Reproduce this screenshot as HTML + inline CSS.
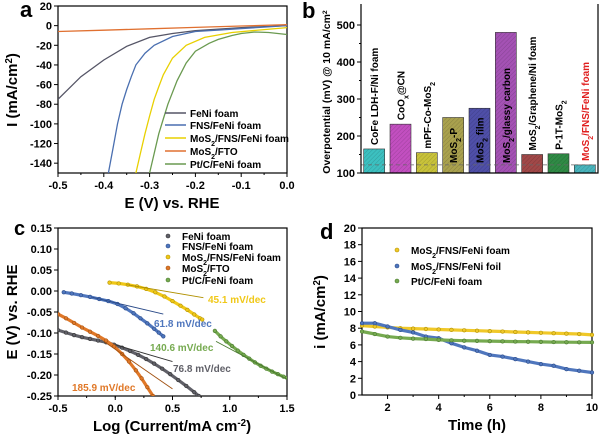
<!DOCTYPE html>
<html><head><meta charset="utf-8"><style>
html,body{margin:0;padding:0;background:#fff;}
svg{display:block;font-family:"Liberation Sans",sans-serif;font-weight:bold;}
</style></head><body>
<svg id="fig" width="600" height="435" viewBox="0 0 600 435">
<defs>
<pattern id="hatch" width="3" height="3" patternUnits="userSpaceOnUse" patternTransform="rotate(45)"><line x1="0" y1="0" x2="0" y2="3" stroke="#000" stroke-opacity="0.18" stroke-width="1"/></pattern>
</defs>
</svg>
<script>
// ---------- Panel a data ----------
const aXTicks=[-0.5,-0.4,-0.3,-0.2,-0.1,0.0];
const aYTicks=[20,0,-20,-40,-60,-80,-100,-120,-140];
const aNames=["FeNi foam","FNS/FeNi foam","MoS2/FNS/FeNi foam","MoS2/FTO","Pt/C/FeNi foam"];
const aFeNiX=[-0.5,-0.45,-0.4,-0.35,-0.3,-0.25,-0.2,-0.15,-0.1,-0.05,0];
const aFeNiY=[-75,-52,-35,-21,-12,-8,-5,-3.5,-2,-1,0];
const aFNSX=[-0.39,-0.38,-0.37,-0.36,-0.35,-0.34,-0.33,-0.31,-0.29,-0.25,-0.2,-0.15,-0.1,-0.05,0];
const aFNSY=[-150,-125,-100,-80,-65,-52,-40,-28,-20,-11,-6,-4.5,-3,-1.5,0];
const aMoFX=[-0.33,-0.32,-0.31,-0.3,-0.29,-0.28,-0.27,-0.25,-0.22,-0.18,-0.12,-0.05,0];
const aMoFY=[-150,-130,-110,-92,-75,-62,-50,-33,-20,-12,-7,-4,-2];
const aFTOX=[-0.5,-0.4,-0.3,-0.2,-0.1,0];
const aFTOY=[-6,-4.6,-3.2,-1.8,-0.4,1];
const aPtX=[-0.3,-0.29,-0.28,-0.27,-0.26,-0.24,-0.22,-0.2,-0.17,-0.15,-0.12,-0.1,-0.07,-0.04,0];
const aPtY=[-150,-130,-110,-95,-80,-56,-38,-26,-18,-14,-10,-8,-6.5,-7,-9];
// ---------- Panel b data ----------
const bCats=["CoFe LDH-F/Ni foam","CoOx@CN","mPF-Co-MoS2","MoS2-P","MoS2 film","MoS2/glassy carbon","MoS2/Graphene/Ni foam","P-1T-MoS2","MoS2/FNS/FeNi foam"];
const bVals=[165,232,155,250,275,480,150,152,122];
const bYTicks=[100,200,300,400,500];
// ---------- Panel c data ----------
const cXTicks=[-0.5,0.0,0.5,1.0,1.5];
const cYTicks=[0.15,0.10,0.05,0.00,-0.05,-0.10,-0.15,-0.20,-0.25];
const cFeNiX=[-0.5,-0.43,-0.36,-0.29,-0.22,-0.15,-0.08,-0.01,0.06,0.13,0.2,0.27,0.34,0.41,0.48,0.55,0.62,0.69,0.73];
const cFeNiY=[-0.093,-0.099,-0.105,-0.11,-0.114,-0.118,-0.122,-0.128,-0.135,-0.143,-0.152,-0.162,-0.173,-0.185,-0.198,-0.212,-0.226,-0.241,-0.25];
const cFNSX=[-0.45,-0.38,-0.3,-0.22,-0.14,-0.06,0.02,0.09,0.16,0.22,0.28,0.34,0.38,0.42];
const cFNSY=[-0.003,-0.006,-0.01,-0.014,-0.019,-0.024,-0.031,-0.041,-0.053,-0.065,-0.077,-0.09,-0.099,-0.108];
const cMoFX=[-0.05,0.03,0.11,0.19,0.27,0.35,0.43,0.5,0.57,0.63,0.69,0.74,0.76];
const cMoFY=[0.02,0.018,0.015,0.011,0.005,-0.003,-0.013,-0.024,-0.035,-0.045,-0.056,-0.065,-0.068];
const cFTOX=[-0.5,-0.43,-0.36,-0.29,-0.22,-0.15,-0.08,-0.01,0.06,0.12,0.18,0.23,0.28,0.33];
const cFTOY=[-0.055,-0.065,-0.076,-0.087,-0.097,-0.107,-0.118,-0.132,-0.15,-0.168,-0.189,-0.208,-0.229,-0.25];
const cPtX=[0.87,0.92,0.97,1.02,1.07,1.12,1.17,1.22,1.27,1.32,1.37,1.42,1.47,1.5];
const cPtY=[-0.095,-0.108,-0.12,-0.131,-0.142,-0.152,-0.161,-0.17,-0.178,-0.185,-0.192,-0.198,-0.204,-0.207];
const cFitFeNiX=[0.0,0.5],cFitFeNiY=[-0.128,-0.168];
const cFitFNSX=[-0.2,0.42],cFitFNSY=[-0.015,-0.055];
const cFitMoFX=[0.1,0.77],cFitMoFY=[0.015,-0.016];
const cFitFTOX=[-0.1,0.5],cFitFTOY=[-0.12,-0.233];
const cFitPtX=[0.88,1.5],cFitPtY=[-0.12,-0.21];
const cSlopes=["45.1 mV/dec","61.8 mV/dec","140.6 mV/dec","76.8 mV/dec","185.9 mV/dec"];
// ---------- Panel d data ----------
const dXTicks=[2,4,6,8,10];
const dYTicks=[0,2,4,6,8,10,12,14,16,18,20];
const dFoamX=[1,1.5,2,2.5,3,3.5,4,4.5,5,5.5,6,6.5,7,7.5,8,8.5,9,9.5,10];
const dFoamY=[8.3,8.2,8.1,8.0,7.95,7.9,7.85,7.8,7.75,7.7,7.65,7.6,7.55,7.5,7.45,7.4,7.35,7.3,7.2];
const dFoilX=[1,1.5,2,2.5,3,3.5,4,4.5,5,5.5,6,6.5,7,7.5,8,8.5,9,9.5,10];
const dFoilY=[8.6,8.6,8.2,7.8,7.5,7.0,6.8,6.2,5.7,5.3,4.8,4.6,4.3,4.0,3.7,3.5,3.1,2.9,2.7];
const dPtX=[1,1.5,2,2.5,3,3.5,4,4.5,5,5.5,6,6.5,7,7.5,8,8.5,9,9.5,10];
const dPtY=[7.6,7.3,7.0,6.85,6.75,6.7,6.6,6.55,6.5,6.48,6.45,6.42,6.4,6.38,6.36,6.34,6.32,6.31,6.3];

const NS="http://www.w3.org/2000/svg";
const svg=document.getElementById('fig');
function mk(tag,attrs,parent,text){const e=document.createElementNS(NS,tag);for(const k in attrs)e.setAttribute(k,attrs[k]);if(text!==undefined)e.textContent=text;(parent||svg).appendChild(e);return e;}
function lin(d0,d1,r0,r1){return v=>r0+(v-d0)*(r1-r0)/(d1-d0);}
function pathOf(xs,ys,sx,sy){return xs.map((x,i)=>(i?'L':'M')+sx(x).toFixed(1)+','+sy(ys[i]).toFixed(1)).join('');}
function sub2(parent,x,y,parts,attrs){const t=mk('text',Object.assign({x:x,y:y},attrs),parent);parts.forEach(p=>{const s=mk('tspan',p[1]?{'baseline-shift':'sub','font-size':'70%'}:{},t,p[0]);});return t;}
function fmtLabel(n){ // split MoS2 / MoSx subscripts
  const out=[];const re=/(MoS|CoO)(2|x)/g;let last=0,m;
  while((m=re.exec(n))){out.push([n.slice(last,m.index+m[1].length),0]);out.push([m[2],1]);last=m.index+m[0].length;}
  out.push([n.slice(last),0]);return out;}
function frame(g,x0,y0,x1,y1){mk('rect',{x:x0,y:y0,width:x1-x0,height:y1-y0,fill:'none',stroke:'#000','stroke-width':1.2},g);}

// ================= Panel a =================
(function(){
const g=mk('g',{});
const sx=lin(-0.5,0,58,287), sy=lin(20,-150,6,173);
frame(g,58,6,287,173);
aXTicks.forEach(v=>{mk('line',{x1:sx(v),x2:sx(v),y1:173,y2:177,stroke:'#000'},g);const t=mk('text',{x:sx(v),y:189,'font-size':11,'text-anchor':'middle'},g,v.toFixed(1));});
for(let v=-0.45;v<0;v+=0.1)mk('line',{x1:sx(v),x2:sx(v),y1:173,y2:175,stroke:'#000'},g);
aYTicks.forEach(v=>{mk('line',{x1:54,x2:58,y1:sy(v),y2:sy(v),stroke:'#000'},g);const t=mk('text',{x:52,y:sy(v)+4,'font-size':11,'text-anchor':'end'},g,String(v));});
const cols=['#555566','#4a6fb0','#e8d000','#e07030','#6a9a50'];
const xs=[aFeNiX,aFNSX,aMoFX,aFTOX,aPtX], ys=[aFeNiY,aFNSY,aMoFY,aFTOY,aPtY];
const cp=mk('clipPath',{id:'clipA'},g);mk('rect',{x:58,y:6,width:229,height:167},cp);
xs.forEach((x,i)=>{const p=mk('path',{d:pathOf(x,ys[i],sx,sy),fill:'none',stroke:cols[i],'stroke-width':1.3,'clip-path':'url(#clipA)'},g);});
const rows=[113,125,138,151,164];
aNames.forEach((n,i)=>{mk('line',{x1:165,x2:186,y1:rows[i],y2:rows[i],stroke:cols[i],'stroke-width':1.5},g);const t=sub2(g,190,rows[i]+4,fmtLabel(n),{'font-size':10});});
const t1=mk('text',{x:172,y:208,'font-size':15,'text-anchor':'middle'},g,'E (V) vs. RHE');
const t2=mk('text',{transform:'translate(17,90) rotate(-90)','font-size':15,'text-anchor':'middle'},g);
mk('tspan',{},t2,'I (mA/cm');mk('tspan',{'baseline-shift':'super','font-size':'65%'},t2,'2');mk('tspan',{},t2,')');
const L=mk('text',{x:20,y:17,'font-size':22},g,'a');
})();

// ================= Panel b =================
(function(){
const g=mk('g',{});
const sy=lin(100,500,173,25);
const x0=361,x1=598,step=(x1-x0)/bCats.length,bw=21;
const cols=['#3cc0c0','#c24fc0','#c8c23a','#a9a14e','#4f4fa8','#a452b4','#a14848','#2f8a45','#48b4bc'];
bCats.forEach((c,i)=>{const cx=x0+step*(i+0.5);const y=sy(bVals[i]);
 const r=mk('rect',{x:cx-bw/2,y:y,width:bw,height:173-y,fill:cols[i],stroke:'#333','stroke-width':0.6},g);
 mk('rect',{x:cx-bw/2,y:y,width:bw,height:173-y,fill:'url(#hatch)'},g);
 const ly=(i===3||i===4||i===5||i===6)? y+ (i===5?115:  (i===6?-4:  -4)) : y-4;
 const base=(i===3||i===4||i===5)? 163 : y-4;
 const t=sub2(g,0,0,fmtLabel(c),{transform:'translate('+(cx+4)+','+base+') rotate(-90)','font-size':10,fill:i===8?'#e02020':'#000'});
});
mk('line',{x1:x0,x2:x1,y1:sy(122),y2:sy(122),stroke:'#666','stroke-dasharray':'4,3','stroke-width':0.8},g);
mk('polyline',{points:x0+',4 '+x0+',173 '+x1+',173 '+x1+',4',fill:'none',stroke:'#000','stroke-width':1.2},g);
bYTicks.forEach(v=>{mk('line',{x1:x0-4,x2:x0,y1:sy(v),y2:sy(v),stroke:'#000'},g);const t=mk('text',{x:x0-6,y:sy(v)+4,'font-size':11,'text-anchor':'end'},g,String(v));});
for(let v=150;v<550;v+=100)mk('line',{x1:x0-2,x2:x0,y1:sy(v),y2:sy(v),stroke:'#000'},g);
const t2=mk('text',{transform:'translate(330,92) rotate(-90)','font-size':10.5,'text-anchor':'middle'},g);
mk('tspan',{},t2,'Overpotential (mV) @ 10 mA/cm');mk('tspan',{'baseline-shift':'super','font-size':'65%'},t2,'2');
const L=mk('text',{x:302,y:18,'font-size':22},g,'b');
})();

// ================= Panel c =================
(function(){
const g=mk('g',{});
const sx=lin(-0.5,1.5,58,287), sy=lin(0.15,-0.25,228,396);
frame(g,58,228,287,396);
cXTicks.forEach(v=>{mk('line',{x1:sx(v),x2:sx(v),y1:396,y2:400,stroke:'#000'},g);const t=mk('text',{x:sx(v),y:412,'font-size':11,'text-anchor':'middle'},g,v.toFixed(1));});
for(let v=-0.25;v<1.5;v+=0.25)mk('line',{x1:sx(v),x2:sx(v),y1:396,y2:398,stroke:'#000'},g);
cYTicks.forEach(v=>{mk('line',{x1:54,x2:58,y1:sy(v),y2:sy(v),stroke:'#000'},g);const t=mk('text',{x:52,y:sy(v)+4,'font-size':11,'text-anchor':'end'},g,v.toFixed(2));});
const cols=['#606068','#4f76bd','#f0c818','#e07828','#76aa50'];
const dark=['#333','#2a4a88','#b09000','#a05010','#4a7a30'];
const xs=[cFeNiX,cFNSX,cMoFX,cFTOX,cPtX], ys=[cFeNiY,cFNSY,cMoFY,cFTOY,cPtY];
const fx=[cFitFeNiX,cFitFNSX,cFitMoFX,cFitFTOX,cFitPtX], fy=[cFitFeNiY,cFitFNSY,cFitMoFY,cFitFTOY,cFitPtY];
const cp=mk('clipPath',{id:'clipC'},g);mk('rect',{x:58,y:228,width:229,height:168},cp);
xs.forEach((x,i)=>{
 const p=mk('path',{d:pathOf(x,ys[i],sx,sy),fill:'none',stroke:cols[i],'stroke-width':3.2,'clip-path':'url(#clipC)'},g);
 x.forEach((xv,j)=>{const c=mk('circle',{cx:sx(xv),cy:sy(ys[i][j]),r:1.8,fill:cols[i],stroke:dark[i],'stroke-width':0.6,'clip-path':'url(#clipC)'},g);});
 const f=mk('path',{d:pathOf(fx[i],fy[i],sx,sy),fill:'none',stroke:dark[i],'stroke-width':0.9},g);
});
const lp=[[208,303,2],[154,327,1],[150,351,4],[173,372,0],[72,391,3]];
cSlopes.forEach((s,i)=>{const t=mk('text',{x:lp[i][0],y:lp[i][1],'font-size':10,fill:cols[lp[i][2]]},g,s);});
const rows=[236,246,257,268,280];
aNames.forEach((n,i)=>{mk('circle',{cx:168,cy:rows[i],r:2,fill:cols[i],stroke:dark[i],'stroke-width':0.6},g);const t=sub2(g,182,rows[i]+4,fmtLabel(n),{'font-size':10});});
const t1=mk('text',{x:172,y:431,'font-size':15,'text-anchor':'middle'},g);
mk('tspan',{},t1,'Log (Current/mA cm');mk('tspan',{'baseline-shift':'super','font-size':'65%'},t1,'-2');mk('tspan',{},t1,')');
const t2=mk('text',{transform:'translate(17,312) rotate(-90)','font-size':15,'text-anchor':'middle'},g,'E (V) vs. RHE');
const L=mk('text',{x:14,y:235,'font-size':20},g,'c');
})();

// ================= Panel d =================
(function(){
const g=mk('g',{});
const sx=lin(1,10,362,592), sy=lin(0,20,395,228);
frame(g,362,228,592,395);
dXTicks.forEach(v=>{mk('line',{x1:sx(v),x2:sx(v),y1:395,y2:399,stroke:'#000'},g);const t=mk('text',{x:sx(v),y:411,'font-size':11,'text-anchor':'middle'},g,String(v));});
for(let v=3;v<10;v+=2)mk('line',{x1:sx(v),x2:sx(v),y1:395,y2:397,stroke:'#000'},g);
dYTicks.forEach(v=>{mk('line',{x1:358,x2:362,y1:sy(v),y2:sy(v),stroke:'#000'},g);const t=mk('text',{x:356,y:sy(v)+4,'font-size':11,'text-anchor':'end'},g,String(v));});
const cols=['#f0c828','#4f76bd','#76aa50'], dark=['#b09000','#2a4a88','#4a7a30'];
const xs=[dFoamX,dFoilX,dPtX], ys=[dFoamY,dFoilY,dPtY];
xs.forEach((x,i)=>{const p=mk('path',{d:pathOf(x,ys[i],sx,sy),fill:'none',stroke:cols[i],'stroke-width':3.2},g);
 x.forEach((xv,j)=>{const c=mk('circle',{cx:sx(xv),cy:sy(ys[i][j]),r:1.8,fill:cols[i],stroke:dark[i],'stroke-width':0.6},g);});});
const names=["MoS2/FNS/FeNi foam","MoS2/FNS/FeNi foil","Pt/C/FeNi foam"];const rows=[250,266,281];
names.forEach((n,i)=>{mk('circle',{cx:397,cy:rows[i],r:2,fill:cols[i],stroke:dark[i],'stroke-width':0.6},g);const t=sub2(g,411,rows[i]+4,fmtLabel(n),{'font-size':10});});
const t1=mk('text',{x:477,y:430,'font-size':15,'text-anchor':'middle'},g,'Time (h)');
const t2=mk('text',{transform:'translate(325,312) rotate(-90)','font-size':15,'text-anchor':'middle'},g);
mk('tspan',{},t2,'i (mA/cm');mk('tspan',{'baseline-shift':'super','font-size':'65%'},t2,'2');mk('tspan',{},t2,')');
const L=mk('text',{x:320,y:239,'font-size':22},g,'d');
})();
</script>
</body></html>
